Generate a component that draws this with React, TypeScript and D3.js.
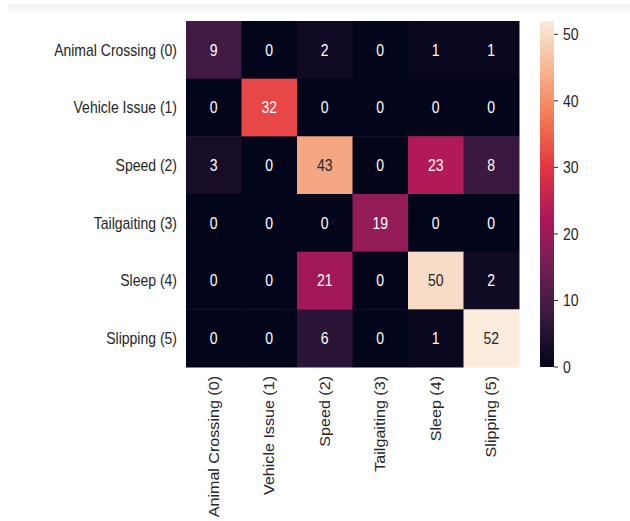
import React from "react";
import * as d3 from "d3";

const categories = [
  "Animal Crossing (0)",
  "Vehicle Issue (1)",
  "Speed (2)",
  "Tailgaiting (3)",
  "Sleep (4)",
  "Slipping (5)",
];

const rowAnimal = [9, 0, 2, 0, 1, 1];
const rowVehicle = [0, 32, 0, 0, 0, 0];
const rowSpeed = [3, 0, 43, 0, 23, 8];
const rowTailgating = [0, 0, 0, 19, 0, 0];
const rowSleep = [0, 0, 21, 0, 50, 2];
const rowSlipping = [0, 0, 6, 0, 1, 52];
const counts = [rowAnimal, rowVehicle, rowSpeed, rowTailgating, rowSleep, rowSlipping];

const colorbarTicks = [0, 10, 20, 30, 40, 50];

// rocket colormap anchors
const rocketAnchors = ["#03051a", "#35193e", "#701f57", "#ad1759", "#e13342", "#f37651", "#f6b48f", "#faebdd"];
const rocket = d3.piecewise(d3.interpolateRgb, rocketAnchors);

const W = 630;
const H = 521;
const left = 186;
const right = 519;
const top = 21;
const bottom = 367;
const cbX = 540;
const cbW = 14;
const VS = 1.15;
const FONT = "'Liberation Sans', Arial, sans-serif";
const TXT = "#262626";

function luminance(c: string) {
  const rgb = d3.rgb(c);
  const f = (v: number) => {
    const s = v / 255;
    return s <= 0.03928 ? s / 12.92 : Math.pow((s + 0.055) / 1.055, 2.4);
  };
  return 0.2126 * f(rgb.r) + 0.7152 * f(rgb.g) + 0.0722 * f(rgb.b);
}

export default function App() {
  const all = counts.flat();
  const vmin = d3.min(all) as number;
  const vmax = d3.max(all) as number;
  const x = d3.scaleBand<string>().domain(categories).range([left, right]);
  const y = d3.scaleBand<string>().domain(categories).range([top, bottom]);
  const color = d3.scaleSequential(rocket).domain([vmin, vmax]);
  const cb = d3.scaleLinear().domain([vmin, vmax]).range([bottom, top]);
  const stops = d3.range(0, 1.0001, 0.02);

  return (
    <div style={{ position: "fixed", left: 0, top: 0, width: W, height: H, background: "#fff" }}>
      <svg width={W} height={H} style={{ display: "block" }} fontFamily={FONT}>
        <defs>
          <linearGradient id="cbgrad" x1="0" y1="1" x2="0" y2="0">
            {stops.map((t) => (
              <stop key={t} offset={`${t * 100}%`} stopColor={rocket(t)} />
            ))}
          </linearGradient>
          <linearGradient id="topband" x1="0" y1="0" x2="0" y2="1">
            <stop offset="0%" stopColor="#f1f1f1" />
            <stop offset="100%" stopColor="#fdfdfd" />
          </linearGradient>
        </defs>
        <rect x={0} y={0} width={W} height={H} fill="#fff" />
        <rect x={8} y={4} width={W - 8} height={10} fill="url(#topband)" />

        {counts.map((row, ri) =>
          row.map((v, ci) => {
            const fill = color(v);
            const cx = (x(categories[ci]) as number) + x.bandwidth() / 2;
            const cy = (y(categories[ri]) as number) + y.bandwidth() / 2;
            return (
              <g key={`${ri}-${ci}`}>
                <rect
                  x={x(categories[ci])}
                  y={y(categories[ri])}
                  width={x.bandwidth() + 0.5}
                  height={y.bandwidth() + 0.5}
                  fill={fill}
                />
                <text
                  transform={`translate(${cx},${cy}) scale(1,${VS})`}
                  textAnchor="middle"
                  dominantBaseline="central"
                  fontSize={14}
                  fill={luminance(fill) > 0.408 ? TXT : "#ffffff"}
                >
                  {v}
                </text>
              </g>
            );
          })
        )}

        {categories.map((c) => (
          <text
            key={`r-${c}`}
            transform={`translate(177,${(y(c) as number) + y.bandwidth() / 2}) scale(1,${VS})`}
            textAnchor="end"
            dominantBaseline="central"
            fontSize={14}
            fill={TXT}
          >
            {c}
          </text>
        ))}

        {categories.map((c) => (
          <text
            key={`c-${c}`}
            transform={`translate(${(x(c) as number) + x.bandwidth() / 2},376) scale(1,${VS}) rotate(-90)`}
            textAnchor="end"
            dominantBaseline="central"
            fontSize={14}
            fill={TXT}
          >
            {c}
          </text>
        ))}

        <rect x={cbX} y={top} width={cbW} height={bottom - top} fill="url(#cbgrad)" />
        {colorbarTicks.map((t) => (
          <g key={`t-${t}`}>
            <line x1={cbX + cbW} x2={cbX + cbW + 4} y1={cb(t)} y2={cb(t)} stroke={TXT} strokeWidth={1} />
            <text
              transform={`translate(${cbX + cbW + 9},${cb(t)}) scale(1,${VS})`}
              textAnchor="start"
              dominantBaseline="central"
              fontSize={14}
              fill={TXT}
            >
              {t}
            </text>
          </g>
        ))}
      </svg>
    </div>
  );
}
